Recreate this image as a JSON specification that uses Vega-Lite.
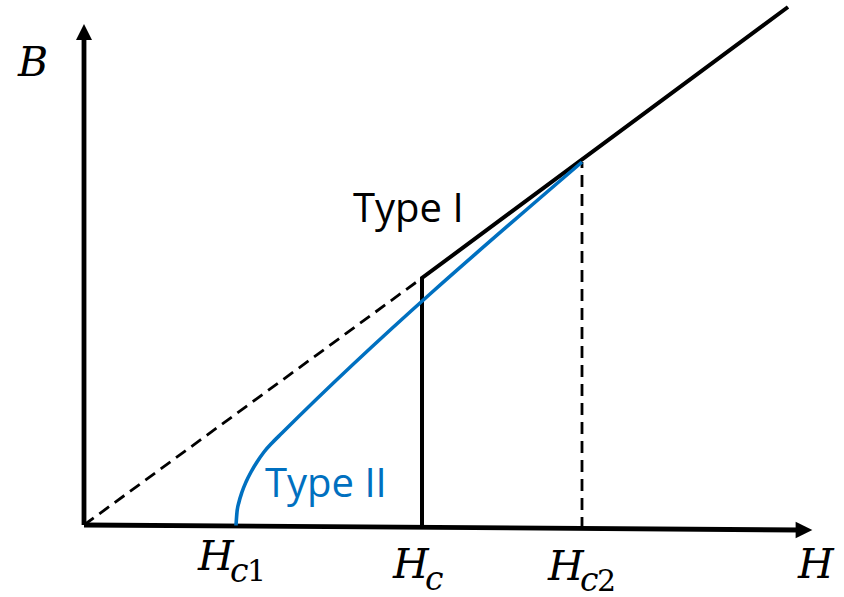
{
  "$schema": "https://vega.github.io/schema/vega-lite/v6.json",
  "width": 844,
  "height": 597,
  "autosize": "none",
  "padding": 0,
  "background": "white",
  "config": {"view": {"stroke": null}},
  "datasets": {
    "axes": [
      {"seg": "B", "ord": 1, "h": 0, "b": 0},
      {"seg": "B", "ord": 2, "h": 0, "b": 486},
      {"seg": "H", "ord": 1, "h": 0, "b": 0},
      {"seg": "H", "ord": 2, "h": 716, "b": -5}
    ],
    "arrowUp": [{"h": 0, "b": 493}],
    "arrowRight": [{"h": 720, "b": -5}],
    "typeI": [
      {"ord": 1, "h": 338, "b": -2},
      {"ord": 2, "h": 338, "b": 247},
      {"ord": 3, "h": 704, "b": 518}
    ],
    "guides": [
      {"seg": "diag", "ord": 1, "h": 0, "b": 0},
      {"seg": "diag", "ord": 2, "h": 338, "b": 247},
      {"seg": "vert", "ord": 1, "h": 498, "b": -4},
      {"seg": "vert", "ord": 2, "h": 498, "b": 363}
    ],
    "typeII": [
      {"ord": 1, "h": 152, "b": -0.5},
      {"ord": 2, "h": 153, "b": 13},
      {"ord": 3, "h": 155, "b": 23},
      {"ord": 4, "h": 158, "b": 33},
      {"ord": 5, "h": 162, "b": 43},
      {"ord": 6, "h": 167, "b": 53},
      {"ord": 7, "h": 173, "b": 63},
      {"ord": 8, "h": 180, "b": 73},
      {"ord": 9, "h": 188, "b": 82},
      {"ord": 10, "h": 198, "b": 92},
      {"ord": 11, "h": 498, "b": 363}
    ],
    "symbols": [
      {"t": "B", "h": -66, "b": 449},
      {"t": "H", "h": 114, "b": -45},
      {"t": "H", "h": 309, "b": -53},
      {"t": "H", "h": 464, "b": -55},
      {"t": "H", "h": 714, "b": -53}
    ],
    "subLetters": [
      {"t": "c", "h": 146, "b": -57},
      {"t": "c", "h": 341, "b": -65},
      {"t": "c", "h": 496, "b": -66}
    ],
    "subDigits": [
      {"t": "1", "h": 163, "b": -56},
      {"t": "2", "h": 513, "b": -66}
    ],
    "typeLabels": [
      {"t": "Type I", "h": 269, "b": 303, "kind": "I"},
      {"t": "Type II", "h": 181, "b": 28, "kind": "II"}
    ]
  },
  "encoding": {
    "x": {"field": "h", "type": "quantitative", "axis": null,
          "scale": {"domain": [-84, 760], "nice": false, "zero": false}},
    "y": {"field": "b", "type": "quantitative", "axis": null,
          "scale": {"domain": [-72, 525], "nice": false, "zero": false}}
  },
  "layer": [
    {
      "data": {"name": "guides"},
      "mark": {"type": "line", "color": "black", "strokeWidth": 2.8, "strokeDash": [12, 7], "clip": false},
      "encoding": {"detail": {"field": "seg"}, "order": {"field": "ord"}}
    },
    {
      "data": {"name": "axes"},
      "mark": {"type": "line", "color": "black", "strokeWidth": 4.8, "strokeCap": "butt", "clip": false},
      "encoding": {"detail": {"field": "seg"}, "order": {"field": "ord"}}
    },
    {
      "data": {"name": "arrowUp"},
      "mark": {"type": "point", "shape": "M0,-1L-1,1L1,1Z", "size": 256, "filled": true, "color": "black", "opacity": 1, "strokeWidth": 0}
    },
    {
      "data": {"name": "arrowRight"},
      "mark": {"type": "point", "shape": "M1,0L-1,-1L-1,1Z", "size": 280, "filled": true, "color": "black", "opacity": 1, "strokeWidth": 0}
    },
    {
      "data": {"name": "typeI"},
      "mark": {"type": "line", "color": "black", "strokeWidth": 4, "strokeJoin": "miter", "strokeCap": "butt", "clip": false},
      "encoding": {"order": {"field": "ord"}}
    },
    {
      "data": {"name": "typeII"},
      "mark": {"type": "line", "color": "#0070C0", "strokeWidth": 3.6, "interpolate": "monotone", "clip": false},
      "encoding": {"order": {"field": "ord"}}
    },
    {
      "data": {"name": "symbols"},
      "mark": {"type": "text", "font": "DejaVu Serif", "fontStyle": "italic", "fontSize": 41, "align": "left", "baseline": "alphabetic", "color": "black"},
      "encoding": {"text": {"field": "t"}}
    },
    {
      "data": {"name": "subLetters"},
      "mark": {"type": "text", "font": "DejaVu Serif", "fontStyle": "italic", "fontSize": 33, "align": "left", "baseline": "alphabetic", "color": "black"},
      "encoding": {"text": {"field": "t"}}
    },
    {
      "data": {"name": "subDigits"},
      "mark": {"type": "text", "font": "DejaVu Serif", "fontSize": 30, "align": "left", "baseline": "alphabetic", "color": "black"},
      "encoding": {"text": {"field": "t"}}
    },
    {
      "data": {"name": "typeLabels"},
      "mark": {"type": "text", "font": "Open Sans", "fontSize": 40, "align": "left", "baseline": "alphabetic"},
      "encoding": {
        "text": {"field": "t"},
        "color": {"field": "kind", "type": "nominal", "legend": null,
                  "scale": {"domain": ["I", "II"], "range": ["black", "#0070C0"]}}
      }
    }
  ]
}
